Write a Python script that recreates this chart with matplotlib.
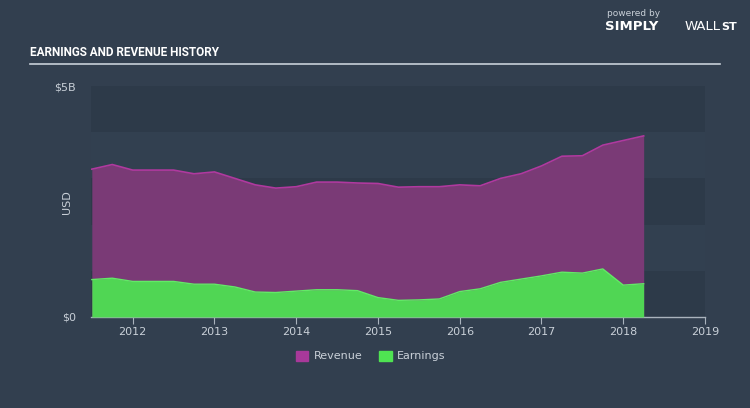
import matplotlib.pyplot as plt
import matplotlib.patches as mpatches
import numpy as np

# quarterly points (years as decimals, values in $B)
years = [2011.5, 2011.75, 2012.0, 2012.25, 2012.5, 2012.75, 2013.0, 2013.25,
         2013.5, 2013.75, 2014.0, 2014.25, 2014.5, 2014.75, 2015.0, 2015.25,
         2015.5, 2015.75, 2016.0, 2016.25, 2016.5, 2016.75, 2017.0, 2017.25,
         2017.5, 2017.75, 2018.0, 2018.25]
revenue = [3.20, 3.30, 3.18, 3.18, 3.18, 3.10, 3.14, 3.00,
           2.86, 2.79, 2.82, 2.92, 2.92, 2.90, 2.89, 2.81,
           2.82, 2.82, 2.86, 2.84, 3.00, 3.10, 3.27, 3.48,
           3.49, 3.72, 3.82, 3.92]
earnings = [0.81, 0.84, 0.77, 0.77, 0.77, 0.71, 0.71, 0.65,
            0.54, 0.53, 0.56, 0.59, 0.59, 0.57, 0.42, 0.36,
            0.37, 0.39, 0.55, 0.61, 0.75, 0.82, 0.89, 0.97,
            0.95, 1.04, 0.69, 0.72]
xticks = [2012, 2013, 2014, 2015, 2016, 2017, 2018, 2019]

BG = '#323f4f'
DARK = '#2d3a49'
LIGHT = '#324050'
TXT = '#c9d0d8'

fig = plt.figure(figsize=(7.5, 4.08), dpi=100)
fig.patch.set_facecolor(BG)

ax = fig.add_axes([91/750, 91/408, 614/750, 231/408])
ax.set_facecolor(BG)
ax.set_xlim(2011.49, 2019.0)
ax.set_ylim(0, 5)

# alternating horizontal bands
for i in range(5):
    ax.axhspan(i, i + 1, color=DARK if i % 2 == 0 else LIGHT, lw=0, zorder=0)

ax.fill_between(years, 0, revenue, color='#7a3a76', lw=0, zorder=1)
ax.plot(years, revenue, color='#b0399f', lw=1.2, zorder=2)
ax.fill_between(years, 0, earnings, color='#50d654', lw=0, zorder=3)
ax.plot(years, earnings, color='#62ea66', lw=1.0, zorder=4)

for s in ['top', 'right', 'left']:
    ax.spines[s].set_visible(False)
ax.spines['bottom'].set_color('#aab3bd')
ax.spines['bottom'].set_linewidth(1)

ax.set_xticks(xticks)
ax.set_xticklabels([str(y) for y in xticks])
ax.set_yticks([0, 5])
ax.set_yticklabels(['$0', '$5B'])
ax.tick_params(axis='x', colors='#aab3bd', labelcolor=TXT, labelsize=8, length=5, pad=2)
ax.tick_params(axis='y', length=0, labelcolor=TXT, labelsize=8, pad=11)
fig.text(67/750, 1 - 202/408, 'USD', color=TXT, fontsize=8, rotation=90,
         ha='center', va='center')

# title and separator
fig.text(30/750, 1 - 52/408, 'EARNINGS AND REVENUE HISTORY', color='white',
         fontsize=8.5, fontweight='bold', family='Roboto',
         va='center', ha='left')
fig.add_artist(plt.Line2D([30/750, 720/750], [1 - 64/408, 1 - 64/408],
                          color='#c8d0d8', lw=1.2))

# logo text
fig.text(607/750, 1 - 14/408, 'powered by', color=TXT, fontsize=6.5, ha='left', va='center')
fig.text(605/750, 1 - 27/408, 'SIMPLY', color='white', fontsize=9.5, fontweight='bold',
         ha='left', va='center')
fig.text(685/750, 1 - 27/408, 'WALL', color='white', fontsize=9.5, ha='left', va='center')
fig.text(721/750, 1 - 27/408, 'ST', color='white', fontsize=8, fontweight='bold',
         ha='left', va='center')

# legend
handles = [mpatches.Patch(color='#a8399a', label='Revenue'),
           mpatches.Patch(color='#4fe352', label='Earnings')]
leg = fig.legend(handles=handles, loc='center', bbox_to_anchor=(371/750, 1 - 356/408),
                 ncol=2, frameon=False, fontsize=8, handlelength=1.1, handleheight=1.0,
                 columnspacing=1.5, handletextpad=0.5)
for t in leg.get_texts():
    t.set_color(TXT)

fig.savefig('out.png', dpi=100, facecolor=BG)
